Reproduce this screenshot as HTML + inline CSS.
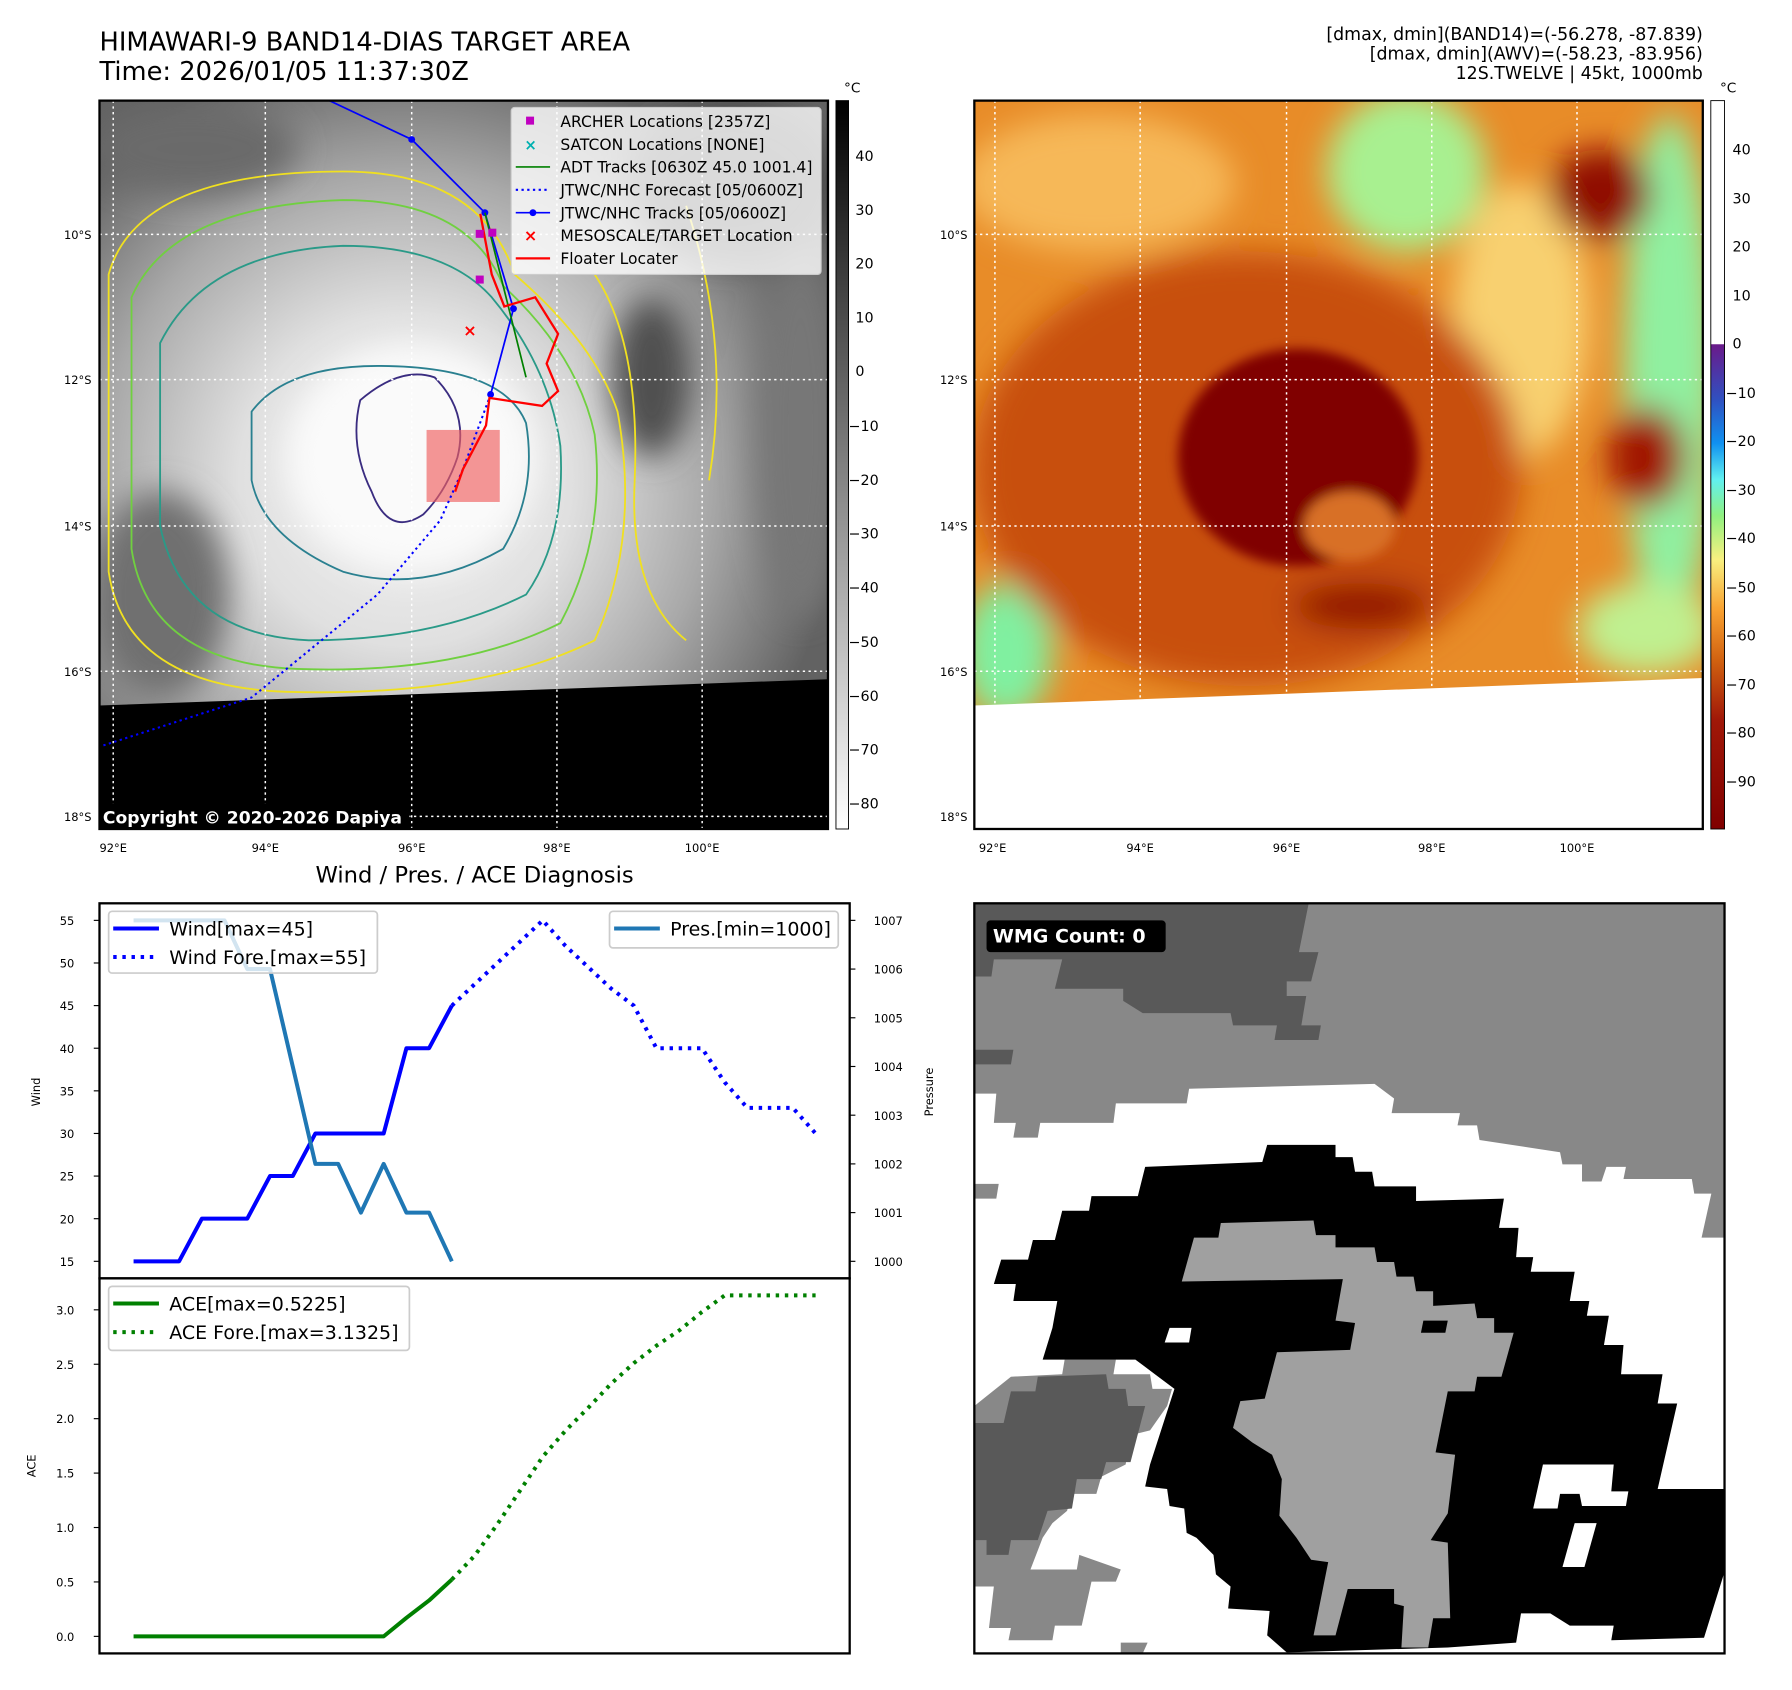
<!DOCTYPE html>
<html><head><meta charset="utf-8"><style>
html,body{margin:0;padding:0;background:#fff}
svg{display:block}
text{font-family:"DejaVu Sans","Liberation Sans",sans-serif}
</style></head><body>
<svg id="fig" width="1792" height="1690" viewBox="0 0 1567 1478" preserveAspectRatio="none" xmlns="http://www.w3.org/2000/svg">
<defs>
  <radialGradient id="g1" cx="0.42" cy="0.52" r="0.6">
    <stop offset="0" stop-color="#f4f4f4"/><stop offset="0.38" stop-color="#e0e0e0"/><stop offset="0.7" stop-color="#a8a8a8"/><stop offset="1" stop-color="#626262"/>
  </radialGradient>
  <linearGradient id="cb1" x1="0" y1="0" x2="0" y2="1"><stop offset="0" stop-color="#000"/><stop offset="1" stop-color="#fff"/></linearGradient>
  <linearGradient id="cb2" x1="0" y1="0" x2="0" y2="1">
    <stop offset="0" stop-color="#fff"/><stop offset="0.334" stop-color="#fff"/>
    <stop offset="0.335" stop-color="#6a1a8a"/><stop offset="0.41" stop-color="#3050c0"/><stop offset="0.47" stop-color="#1090f0"/>
    <stop offset="0.52" stop-color="#60f0f0"/><stop offset="0.57" stop-color="#90f080"/><stop offset="0.63" stop-color="#f8f080"/>
    <stop offset="0.7" stop-color="#f8a030"/><stop offset="0.77" stop-color="#d06010"/><stop offset="0.85" stop-color="#a01808"/><stop offset="1" stop-color="#800000"/>
  </linearGradient>
  <filter id="bl" x="-20%" y="-20%" width="140%" height="140%"><feGaussianBlur stdDeviation="14"/></filter>
  <filter id="bl2"><feGaussianBlur stdDeviation="5"/></filter>
  <clipPath id="c1"><rect x="87" y="88" width="637" height="637"/></clipPath>
  <clipPath id="c2"><rect x="852" y="88" width="637" height="637"/></clipPath>
</defs>

<text x="87" y="44" font-size="22.5">HIMAWARI-9 BAND14-DIAS TARGET AREA</text>
<text x="87" y="70" font-size="22.5">Time: 2026/01/05 11:37:30Z</text>
<g font-size="15.2" text-anchor="end">
  <text x="1489" y="35">[dmax, dmin](BAND14)=(-56.278, -87.839)</text>
  <text x="1489" y="52">[dmax, dmin](AWV)=(-58.23, -83.956)</text>
  <text x="1489" y="69">12S.TWELVE | 45kt, 1000mb</text>
</g>

<!-- MAP 1 -->
<g clip-path="url(#c1)">
  <rect x="87" y="88" width="637" height="637" fill="url(#g1)"/>
  <g filter="url(#bl)">
    <ellipse cx="640" cy="160" rx="90" ry="70" fill="#4a4a4a"/>
    <ellipse cx="570" cy="330" rx="35" ry="70" fill="#505050"/>
    <ellipse cx="700" cy="380" rx="40" ry="160" fill="#777"/>
    <ellipse cx="140" cy="520" rx="60" ry="90" fill="#707070"/>
    <ellipse cx="170" cy="130" rx="90" ry="40" fill="#6a6a6a"/>
    <ellipse cx="360" cy="400" rx="110" ry="100" fill="#fafafa"/>
  </g>
  <g fill="none" stroke-width="1.6">
    <path d="M95 240 Q120 150 300 150 Q420 150 450 240 Q520 300 540 360 Q560 470 520 560 Q420 610 250 605 Q110 600 95 500 Z" stroke="#f0e020"/>
    <path d="M520 240 Q560 300 555 420 Q550 520 600 560" stroke="#f0e020"/>
    <path d="M600 180 Q640 300 620 420" stroke="#f0e020"/>
    <path d="M115 260 Q150 180 300 175 Q410 175 440 250 Q505 310 520 380 Q530 470 490 545 Q400 590 260 585 Q130 580 115 480 Z" stroke="#70d040"/>
    <path d="M140 300 Q180 220 300 215 Q390 215 430 260 Q480 320 490 390 Q495 470 460 520 Q380 560 270 560 Q160 555 140 460 Z" stroke="#2a9a88"/>
    <path d="M220 360 Q250 320 330 320 Q440 320 460 370 Q470 430 440 480 Q370 520 300 500 Q230 470 220 420 Z" stroke="#2a8090"/>
    <path d="M315 350 Q350 320 380 330 Q410 360 400 400 Q390 430 370 450 Q340 470 325 430 Q305 390 315 350 Z" stroke="#3a2c80"/>
  </g>
  <polygon points="87,617 724,594 724,725 87,725" fill="#000"/>
  <g stroke="#fff" stroke-width="1.3" stroke-dasharray="2 3" fill="none">
    <line x1="99" y1="88" x2="99" y2="725"/><line x1="232" y1="88" x2="232" y2="725"/><line x1="360" y1="88" x2="360" y2="725"/><line x1="487" y1="88" x2="487" y2="725"/><line x1="614" y1="88" x2="614" y2="725"/>
    <line x1="87" y1="205" x2="724" y2="205"/><line x1="87" y1="332" x2="724" y2="332"/><line x1="87" y1="460" x2="724" y2="460"/><line x1="87" y1="587" x2="724" y2="587"/><line x1="87" y1="714" x2="724" y2="714"/>
  </g>
  <rect x="373" y="376" width="64" height="63" fill="#f06060" opacity="0.65"/>
  <polyline points="288,88 360,122 424,186 449,270 429,345" fill="none" stroke="#0000ff" stroke-width="1.5"/>
  <g fill="#0000ff"><circle cx="360" cy="122" r="3"/><circle cx="424" cy="186" r="3"/><circle cx="449" cy="270" r="3"/><circle cx="429" cy="345" r="3"/></g>
  <polyline points="429,345 405,410 385,455 330,520 220,610 87,653" fill="none" stroke="#0000ff" stroke-width="1.8" stroke-dasharray="2 3"/>
  <polyline points="424,186 460,330" fill="none" stroke="#008000" stroke-width="1.5"/>
  <polyline points="420,187 430,240 441,268 468,260 488,292 478,318 488,342 474,355 428,348 425,372 405,410 398,430" fill="none" stroke="#ff0000" stroke-width="2"/>
  <g fill="#c000c0"><rect x="416" y="201" width="7" height="7"/><rect x="427" y="200" width="7" height="7"/><rect x="416" y="241" width="7" height="7"/></g>
  <text x="411" y="294" font-size="14" fill="#ff0000" text-anchor="middle" font-weight="bold">×</text>
  <g>
    <rect x="447" y="94" width="271" height="146" fill="#fff" fill-opacity="0.8" stroke="#ccc" rx="3"/>
    <g font-size="13.6">
      <rect x="460" y="102" width="7" height="7" fill="#c000c0"/><text x="490" y="111">ARCHER Locations [2357Z]</text>
      <text x="464" y="131" fill="#00b0b0" text-anchor="middle" font-size="13" font-weight="bold">×</text><text x="490" y="131">SATCON Locations [NONE]</text>
      <line x1="451" y1="146" x2="481" y2="146" stroke="#008000" stroke-width="1.5"/><text x="490" y="151">ADT Tracks [0630Z 45.0 1001.4]</text>
      <line x1="451" y1="166" x2="481" y2="166" stroke="#0000ff" stroke-width="1.8" stroke-dasharray="2 3"/><text x="490" y="171">JTWC/NHC Forecast [05/0600Z]</text>
      <line x1="451" y1="186" x2="481" y2="186" stroke="#0000ff" stroke-width="1.5"/><circle cx="466" cy="186" r="3" fill="#0000ff"/><text x="490" y="191">JTWC/NHC Tracks [05/0600Z]</text>
      <text x="464" y="211" fill="#ff0000" text-anchor="middle" font-size="14" font-weight="bold">×</text><text x="490" y="211">MESOSCALE/TARGET Location</text>
      <line x1="451" y1="226" x2="481" y2="226" stroke="#ff0000" stroke-width="2"/><text x="490" y="231">Floater Locater</text>
    </g>
  </g>
  <rect x="87" y="703" width="271" height="22" fill="#000"/>
  <text x="90" y="720" font-size="15" font-weight="bold" fill="#fff">Copyright © 2020-2026 Dapiya</text>
</g>
<rect x="87" y="88" width="637" height="637" fill="none" stroke="#000" stroke-width="2"/>
<g font-size="10">
  <g text-anchor="middle"><text x="99" y="745">92°E</text><text x="232" y="745">94°E</text><text x="360" y="745">96°E</text><text x="487" y="745">98°E</text><text x="614" y="745">100°E</text></g>
  <g text-anchor="end"><text x="80" y="209">10°S</text><text x="80" y="336">12°S</text><text x="80" y="464">14°S</text><text x="80" y="591">16°S</text><text x="80" y="718">18°S</text></g>
</g>
<rect x="731" y="88" width="11" height="637" fill="url(#cb1)" stroke="#000" stroke-width="0.8"/>
<text x="738" y="81" font-size="12">°C</text>
<g font-size="12.5">
  <text x="748" y="141">40</text><text x="748" y="188">30</text><text x="748" y="235">20</text><text x="748" y="282">10</text><text x="748" y="329">0</text><text x="742" y="377">−10</text><text x="742" y="424">−20</text><text x="742" y="471">−30</text><text x="742" y="518">−40</text><text x="742" y="566">−50</text><text x="742" y="613">−60</text><text x="742" y="660">−70</text><text x="742" y="707">−80</text>
</g>

<!-- MAP 2 -->
<g clip-path="url(#c2)">
  <rect x="852" y="88" width="637" height="637" fill="#e88c28"/>
  <g filter="url(#bl)">
    <ellipse cx="960" cy="160" rx="120" ry="60" fill="#f6b858"/>
    <ellipse cx="1230" cy="150" rx="70" ry="70" fill="#a8f090"/>
    <ellipse cx="1330" cy="280" rx="60" ry="120" fill="#f8d070"/>
    <ellipse cx="1460" cy="330" rx="40" ry="230" fill="#90f0a0"/>
    <ellipse cx="880" cy="570" rx="40" ry="60" fill="#80f0a0"/>
    <ellipse cx="1440" cy="550" rx="60" ry="40" fill="#c0f090"/>
    <ellipse cx="1090" cy="410" rx="240" ry="190" fill="#c85010"/>
    <ellipse cx="1400" cy="170" rx="45" ry="40" fill="#900800"/>
    <ellipse cx="1440" cy="400" rx="35" ry="45" fill="#a01800"/>
    <ellipse cx="1190" cy="530" rx="60" ry="20" fill="#901000"/>
  </g>
  <g filter="url(#bl2)">
    <ellipse cx="1135" cy="400" rx="105" ry="95" fill="#800000"/>
    <ellipse cx="1180" cy="460" rx="40" ry="30" fill="#d87028"/>
  </g>
  <polygon points="852,617 1489,593 1489,725 852,725" fill="#fff"/>
  <g stroke="#fff" stroke-width="1.3" stroke-dasharray="2 3" fill="none">
    <line x1="870" y1="88" x2="870" y2="725"/><line x1="997" y1="88" x2="997" y2="725"/><line x1="1125" y1="88" x2="1125" y2="725"/><line x1="1252" y1="88" x2="1252" y2="725"/><line x1="1379" y1="88" x2="1379" y2="725"/>
    <line x1="852" y1="205" x2="1489" y2="205"/><line x1="852" y1="332" x2="1489" y2="332"/><line x1="852" y1="460" x2="1489" y2="460"/><line x1="852" y1="587" x2="1489" y2="587"/><line x1="852" y1="714" x2="1489" y2="714"/>
  </g>
</g>
<rect x="852" y="88" width="637" height="637" fill="none" stroke="#000" stroke-width="2"/>
<g font-size="10">
  <g text-anchor="middle"><text x="868" y="745">92°E</text><text x="997" y="745">94°E</text><text x="1125" y="745">96°E</text><text x="1252" y="745">98°E</text><text x="1379" y="745">100°E</text></g>
  <g text-anchor="end"><text x="846" y="209">10°S</text><text x="846" y="336">12°S</text><text x="846" y="464">14°S</text><text x="846" y="591">16°S</text><text x="846" y="718">18°S</text></g>
</g>
<rect x="1496" y="88" width="12" height="637" fill="url(#cb2)" stroke="#000" stroke-width="0.8"/>
<text x="1504" y="81" font-size="12">°C</text>
<g font-size="12.5">
  <text x="1515" y="135">40</text><text x="1515" y="178">30</text><text x="1515" y="220">20</text><text x="1515" y="263">10</text><text x="1515" y="305">0</text><text x="1509" y="348">−10</text><text x="1509" y="390">−20</text><text x="1509" y="433">−30</text><text x="1509" y="475">−40</text><text x="1509" y="518">−50</text><text x="1509" y="560">−60</text><text x="1509" y="603">−70</text><text x="1509" y="645">−80</text><text x="1509" y="688">−90</text>
</g>

<!-- CHARTS -->
<text x="415" y="772" font-size="19.8" text-anchor="middle">Wind / Pres. / ACE Diagnosis</text>
<g id="chart"></g>

<!-- WMG panel -->
<g>
<g transform="translate(852,790) scale(0.4268)">
  <rect x="0" y="0" width="1537" height="1537" fill="#888"/>
  <polygon fill="#595959" points="0,0 685,0 665,100 705,100 690,160 640,160 640,190 680,190 670,250 710,250 705,280 615,280 620,250 530,250 525,225 345,225 305,200 305,175 165,175 180,115 40,115 35,150 0,150"/>
  <polygon fill="#595959" points="0,300 80,300 75,330 0,330"/>
  <polygon fill="#fff" points="0,390 45,390 40,450 85,450 80,480 130,480 135,450 285,450 290,410 435,410 440,380 820,370 860,400 855,430 995,430 990,455 1030,455 1035,485 1200,510 1205,535 1245,535 1245,570 1285,570 1295,540 1335,540 1330,565 1470,565 1475,595 1510,595 1490,685 1537,685 1537,1537 0,1537"/>
  <polygon fill="#888" points="0,575 50,575 45,605 0,605"/>
  <polygon fill="#888" points="0,1030 75,970 180,965 185,935 290,935 285,965 360,965 365,995 405,995 395,1030 360,1080 320,1090 310,1150 260,1175 250,1210 200,1210 190,1245 160,1270 140,1300 115,1365 210,1365 215,1335 300,1365 290,1390 240,1390 220,1480 165,1480 160,1510 70,1510 75,1485 30,1485 40,1400 0,1400"/>
  <polygon fill="#595959" points="0,1065 60,1065 75,1000 125,1000 130,970 270,965 275,995 310,995 315,1030 350,1030 320,1145 270,1145 260,1180 210,1180 200,1240 150,1245 130,1305 75,1305 70,1335 25,1335 25,1305 0,1305"/>
  <polygon fill="#888" points="300,1515 355,1515 345,1537 300,1537"/>
  <polygon fill="#000" points="40,780 55,730 110,730 120,690 165,690 180,630 235,630 240,600 335,600 350,540 590,530 600,495 740,495 740,520 775,520 780,550 815,550 820,580 905,580 905,610 1085,605 1075,665 1115,665 1110,725 1145,725 1140,755 1230,755 1220,815 1260,815 1255,845 1300,845 1290,905 1330,905 1325,965 1410,965 1400,1025 1440,1025 1400,1200 1537,1200 1537,1370 1495,1505 1305,1510 1310,1480 1220,1480 1180,1455 1120,1455 1110,1515 970,1525 640,1535 600,1500 605,1450 520,1445 525,1400 495,1375 490,1335 455,1300 435,1290 430,1240 400,1235 395,1200 350,1195 360,1150 410,995 370,965 330,935 140,935 160,870 170,815 80,815 85,780"/>
  <polygon fill="#a0a0a0" points="425,775 450,685 500,685 505,655 695,650 700,680 740,680 740,705 820,705 825,735 860,735 865,765 900,765 905,795 940,795 940,825 1025,820 1030,850 1065,850 1065,880 1105,880 1080,970 1030,970 1025,1000 970,1000 945,1125 985,1130 970,1250 935,1305 970,1310 975,1465 940,1465 930,1525 875,1525 880,1440 860,1435 860,1405 765,1405 740,1500 695,1500 705,1450 725,1350 690,1345 660,1300 625,1255 630,1180 610,1130 570,1105 530,1075 545,1020 595,1015 620,920 770,915 780,860 740,855 755,770"/>
  <polygon fill="#000" points="920,855 970,855 965,880 915,880"/>
  <polygon fill="#fff" points="400,870 445,870 440,900 390,900"/>
  <polygon fill="#fff" points="1165,1150 1310,1150 1305,1205 1340,1205 1335,1235 1245,1235 1240,1210 1200,1210 1195,1240 1145,1240"/>
  <polygon fill="#fff" points="1230,1270 1275,1270 1250,1360 1205,1360"/>
  <rect x="25" y="35" width="367" height="65" rx="8" fill="#000"/>
  <text x="38" y="80" font-size="39" font-weight="bold" fill="#fff">WMG Count: 0</text>
</g>
<rect x="852" y="790" width="656" height="656" fill="none" stroke="#000" stroke-width="2"/>
</g>
</svg>
<script>
const xIdxObs = [0,1,2,3,4,5,6,7,8,9,10,11,12,13,14];
const windObs = [15,15,15,20,20,20,25,25,30,30,30,30,40,40,45];
const presObs = [1007,1007,1007,1007,1007,1006,1006,1004,1002,1002,1001,1002,1001,1001,1000];
const aceObs = [0,0,0,0,0,0,0,0,0,0,0,0,0.17,0.33,0.5225];
const xIdxFc = [14,15,16,17,18,19,20,21,22,23,24,25,26,27,28,29,30];
const windFc = [45,47.5,50,52.5,55,52,49.5,47,45,40,40,40,36,33,33,33,30];
const aceFc = [0.5225,0.74,1.03,1.34,1.65,1.89,2.10,2.32,2.51,2.67,2.81,2.98,3.1325,3.1325,3.1325,3.1325,3.1325];
const windTicks = [15,20,25,30,35,40,45,50,55];
const presTicks = [1000,1001,1002,1003,1004,1005,1006,1007];
const aceTicks = [0.0,0.5,1.0,1.5,2.0,2.5,3.0];

const NS = 'http://www.w3.org/2000/svg';
const L = 87, R = 743, T1 = 790, B1 = 1118, T2 = 1118, B2 = 1446;
const xMin = -1.5, xMax = 31.5;
const X = i => L + (i - xMin) / (xMax - xMin) * (R - L);
const wMin = 13, wMax = 57;
const Yw = v => B1 - (v - wMin) / (wMax - wMin) * (B1 - T1);
const pMin = 999.65, pMax = 1007.35;
const Yp = v => B1 - (v - pMin) / (pMax - pMin) * (B1 - T1);
const aMin = -0.1566, aMax = 3.289;
const Ya = v => B2 - (v - aMin) / (aMax - aMin) * (B2 - T2);
const g = document.getElementById('chart');
function el(tag, attrs, parent) {
  const e = document.createElementNS(NS, tag);
  for (const k in attrs) e.setAttribute(k, attrs[k]);
  (parent || g).appendChild(e);
  return e;
}
function line(xs, ys, fx, fy, stroke, dash, w, name) {
  const pts = xs.map((x, i) => fx(x).toFixed(1) + ',' + fy(ys[i]).toFixed(1)).join(' ');
  const p = el('polyline', {points: pts, fill: 'none', stroke: stroke, 'stroke-width': w, 'stroke-linejoin': 'round'});
  if (dash) p.setAttribute('stroke-dasharray', dash);
  
  
}
function txt(x, y, s, size, anchor, extra) {
  const t = el('text', Object.assign({x: x, y: y, 'font-size': size, 'text-anchor': anchor || 'start'}, extra || {}));
  t.textContent = s;
  return t;
}
windTicks.forEach(v => {
  const y = Yw(v);
  el('line', {x1: L - 5, x2: L, y1: y, y2: y, stroke: '#000', 'stroke-width': 1});
  const t = txt(L - 22, y + 4, String(v), 10, 'end');
  
  
});
presTicks.forEach(v => {
  const y = Yp(v);
  el('line', {x1: R, x2: R + 5, y1: y, y2: y, stroke: '#000', 'stroke-width': 1});
  const t = txt(R + 21, y + 4, String(v), 10, 'start');
  
  
});
aceTicks.forEach(v => {
  const y = Ya(v);
  el('line', {x1: L - 5, x2: L, y1: y, y2: y, stroke: '#000', 'stroke-width': 1});
  const t = txt(L - 22, y + 4, v.toFixed(1), 10, 'end');
  
  
});
const yl1 = txt(0, 0, 'Wind', 10, 'middle', {transform: 'translate(35,955) rotate(-90)'});


const yl2 = txt(0, 0, 'Pressure', 10, 'middle', {transform: 'translate(816,955) rotate(-90)'});


const yl3 = txt(0, 0, 'ACE', 10, 'middle', {transform: 'translate(31,1282) rotate(-90)'});


line(xIdxFc, windFc, X, Yw, '#0000ff', '3 5', 3.5, 'wind-forecast-line');
line(xIdxObs, windObs, X, Yw, '#0000ff', null, 3.5, 'wind-line');
line(xIdxObs, presObs, X, Yp, '#1f77b4', null, 3.5, 'pressure-line');
line(xIdxFc, aceFc, X, Ya, '#008000', '3 5', 3.5, 'ace-forecast-line');
line(xIdxObs, aceObs, X, Ya, '#008000', null, 3.5, 'ace-line');
el('rect', {x: L, y: T1, width: R - L, height: B1 - T1, fill: 'none', stroke: '#000', 'stroke-width': 2});
el('rect', {x: L, y: T2, width: R - L, height: B2 - T2, fill: 'none', stroke: '#000', 'stroke-width': 2});
function legend(x, y, w, h, items, name) {
  const lg = el('g', {});
  
  
  el('rect', {x: x, y: y, width: w, height: h, rx: 3, fill: '#fff', 'fill-opacity': 0.8, stroke: '#ccc', 'stroke-width': 1.5}, lg);
  items.forEach((it, i) => {
    const yy = y + 15 + i * 25;
    const ln = el('line', {x1: x + 4, x2: x + 44, y1: yy, y2: yy, stroke: it[1], 'stroke-width': 3.5}, lg);
    if (it[2]) ln.setAttribute('stroke-dasharray', '3 5');
    const t = el('text', {x: x + 53, y: yy + 6, 'font-size': 16.6}, lg);
    t.textContent = it[0];
  });
}
legend(95, 797, 235, 54, [['Wind[max=45]', '#0000ff', false], ['Wind Fore.[max=55]', '#0000ff', true]], 'wind-legend');
legend(533, 797, 200, 32, [['Pres.[min=1000]', '#1f77b4', false]], 'pressure-legend');
legend(95, 1125, 263, 56, [['ACE[max=0.5225]', '#008000', false], ['ACE Fore.[max=3.1325]', '#008000', true]], 'ace-legend');
</script>
</body></html>
